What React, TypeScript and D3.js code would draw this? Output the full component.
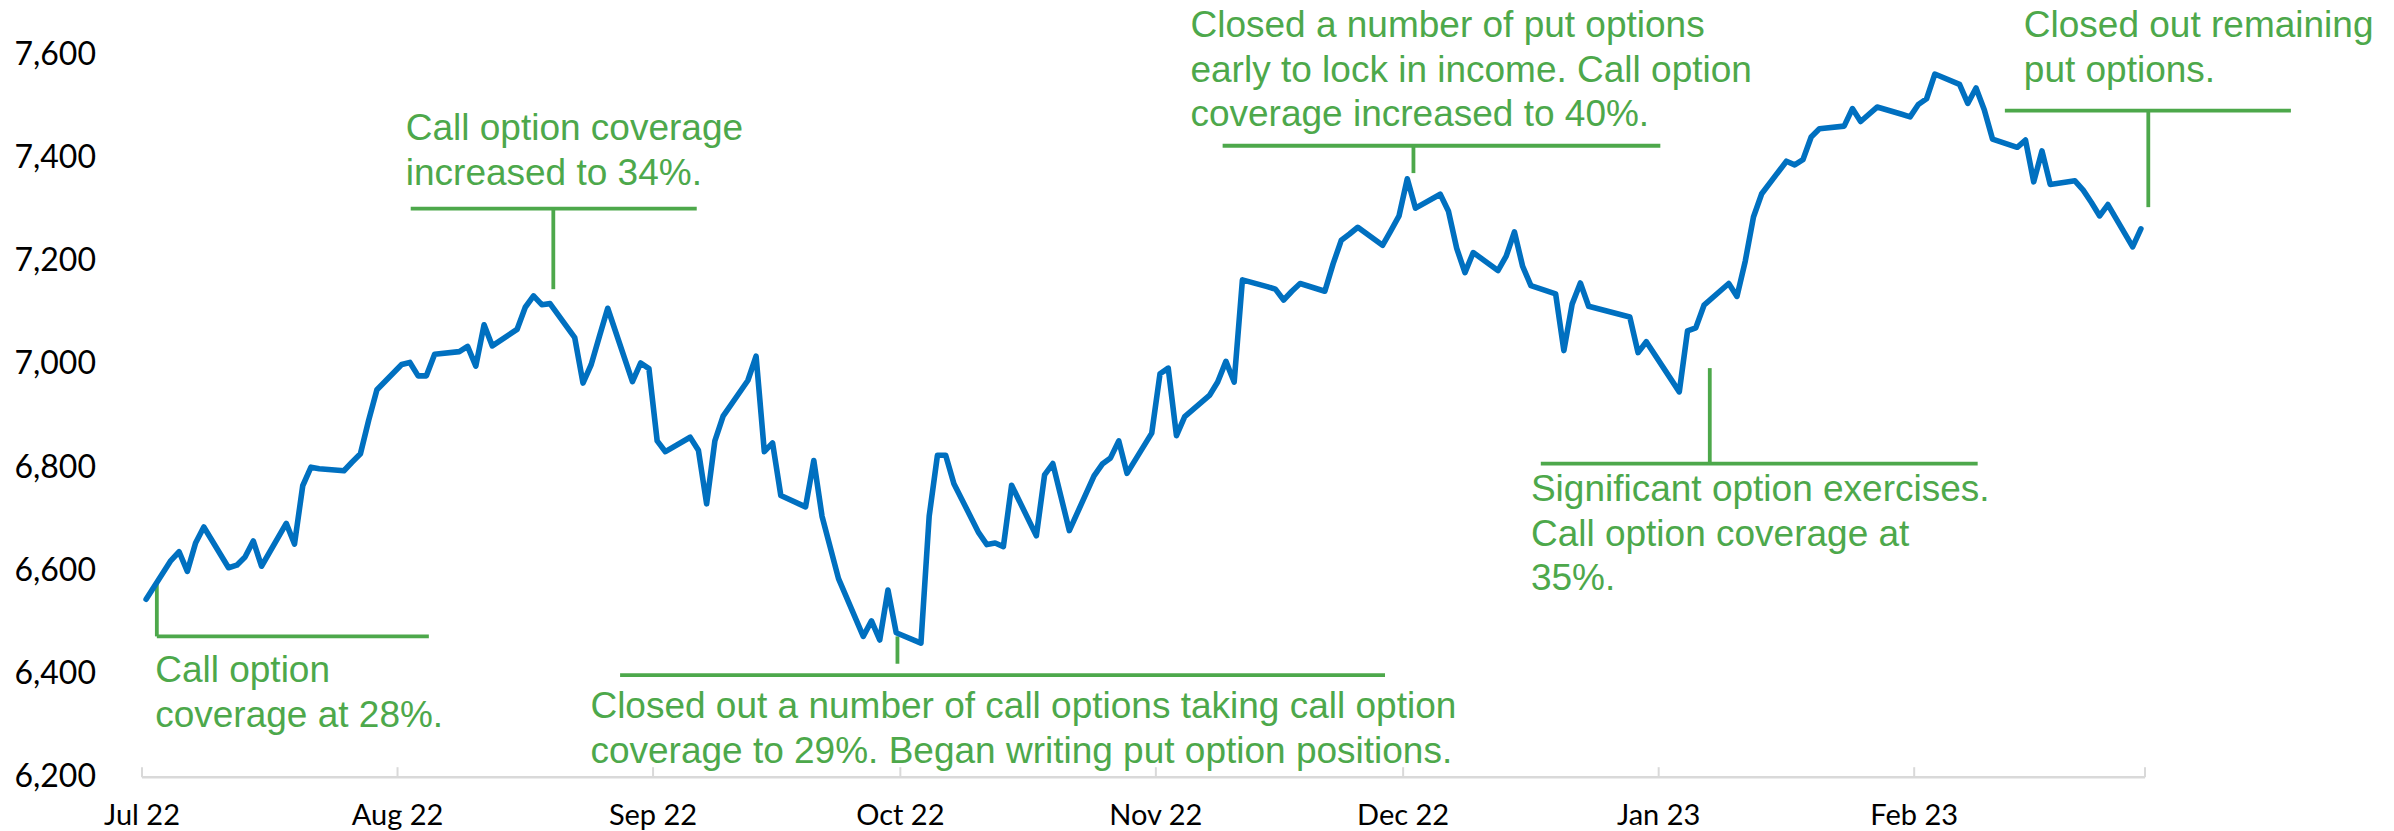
import React from "react";
import * as d3 from "d3";

// ---- data (ASX 200 style index level, daily closes) ----
const dates: string[] = [
  "2022-07-01","2022-07-04","2022-07-05","2022-07-06","2022-07-07","2022-07-08",
  "2022-07-11","2022-07-12","2022-07-13","2022-07-14","2022-07-15",
  "2022-07-18","2022-07-19","2022-07-20","2022-07-21","2022-07-22",
  "2022-07-25","2022-07-26","2022-07-27","2022-07-28","2022-07-29",
  "2022-08-01","2022-08-02","2022-08-03","2022-08-04","2022-08-05",
  "2022-08-08","2022-08-09","2022-08-10","2022-08-11","2022-08-12",
  "2022-08-15","2022-08-16","2022-08-17","2022-08-18","2022-08-19",
  "2022-08-22","2022-08-23","2022-08-24","2022-08-25","2022-08-26",
  "2022-08-29","2022-08-30","2022-08-31","2022-09-01","2022-09-02",
  "2022-09-05","2022-09-06","2022-09-07","2022-09-08","2022-09-09",
  "2022-09-12","2022-09-13","2022-09-14","2022-09-15","2022-09-16",
  "2022-09-19","2022-09-20","2022-09-21","2022-09-23",
  "2022-09-26","2022-09-27","2022-09-28","2022-09-29","2022-09-30",
  "2022-10-03","2022-10-04","2022-10-05","2022-10-06","2022-10-07",
  "2022-10-10","2022-10-11","2022-10-12","2022-10-13","2022-10-14",
  "2022-10-17","2022-10-18","2022-10-19","2022-10-20","2022-10-21",
  "2022-10-24","2022-10-25","2022-10-26","2022-10-27","2022-10-28",
  "2022-10-31","2022-11-01","2022-11-02","2022-11-03","2022-11-04",
  "2022-11-07","2022-11-08","2022-11-09","2022-11-10","2022-11-11",
  "2022-11-14","2022-11-15","2022-11-16","2022-11-17","2022-11-18",
  "2022-11-21","2022-11-22","2022-11-23","2022-11-24","2022-11-25",
  "2022-11-28","2022-11-29","2022-11-30","2022-12-01","2022-12-02",
  "2022-12-05","2022-12-06","2022-12-07","2022-12-08","2022-12-09",
  "2022-12-12","2022-12-13","2022-12-14","2022-12-15","2022-12-16",
  "2022-12-19","2022-12-20","2022-12-21","2022-12-22","2022-12-23",
  "2022-12-28","2022-12-29","2022-12-30",
  "2023-01-03","2023-01-04","2023-01-05","2023-01-06",
  "2023-01-09","2023-01-10","2023-01-11","2023-01-12","2023-01-13",
  "2023-01-16","2023-01-17","2023-01-18","2023-01-19","2023-01-20",
  "2023-01-23","2023-01-24","2023-01-25","2023-01-27",
  "2023-01-30","2023-01-31","2023-02-01","2023-02-02","2023-02-03",
  "2023-02-06","2023-02-07","2023-02-08","2023-02-09","2023-02-10",
  "2023-02-13","2023-02-14","2023-02-15","2023-02-16","2023-02-17",
  "2023-02-20","2023-02-21","2023-02-22","2023-02-23","2023-02-24",
  "2023-02-27","2023-02-28",
];

const values: number[] = [
  6542, 6617, 6634, 6596, 6651, 6682,
  6603, 6608, 6624, 6655, 6606,
  6689, 6649, 6762, 6798, 6795,
  6791, 6808, 6824, 6889, 6948,
  6997, 7001, 6975, 6975, 7017,
  7022, 7032, 6994, 7074, 7033,
  7065, 7108, 7130, 7113, 7115,
  7049, 6961, 6997, 7052, 7106,
  6964, 7000, 6989, 6849, 6828,
  6856, 6831, 6727, 6849, 6897,
  6966, 7013, 6828, 6845, 6743,
  6721, 6811, 6703, 6582,
  6470, 6500, 6463, 6560, 6477,
  6457, 6703, 6821, 6821, 6766,
  6671, 6648, 6651, 6644, 6763,
  6665, 6783, 6805, 6740, 6675,
  6781, 6804, 6816, 6849, 6786,
  6864, 6979, 6990, 6859, 6896,
  6937, 6963, 7003, 6963, 7161,
  7148, 7143, 7122, 7139, 7154,
  7139, 7192, 7238, 7250, 7263,
  7228, 7256, 7285, 7357, 7300,
  7327, 7294, 7222, 7175, 7214,
  7179, 7207, 7254, 7187, 7150,
  7134, 7024, 7114, 7155, 7110,
  7089, 7020, 7041,
  6944, 7062, 7068, 7112,
  7154, 7129, 7197, 7283, 7328,
  7391, 7384, 7394, 7438, 7454,
  7459, 7493, 7468, 7496,
  7482, 7477, 7501, 7512, 7560,
  7540, 7503, 7533, 7491, 7434,
  7418, 7432, 7351, 7411, 7346,
  7353, 7335, 7311, 7285, 7307,
  7225, 7260,
];

const yTicks: number[] = [6200, 6400, 6600, 6800, 7000, 7200, 7400, 7600];
const monthTicks: string[] = [
  "2022-07-01","2022-08-01","2022-09-01","2022-10-01","2022-11-01",
  "2022-12-01","2023-01-01","2023-02-01","2023-03-01",
];
const monthLabels: string[] = ["Jul 22","Aug 22","Sep 22","Oct 22","Nov 22","Dec 22","Jan 23","Feb 23"];

// annotation texts
const annTexts: string[][] = [
  ["Call option coverage", "increased to 34%."],
  ["Call option", "coverage at 28%."],
  ["Closed out a number of call options taking call option", "coverage to 29%. Began writing put option positions."],
  ["Closed a number of put options", "early to lock in income. Call option", "coverage increased to 40%."],
  ["Closed out remaining", "put options."],
  ["Significant option exercises.", "Call option coverage at", "35%."],
];
// anchors in data space: days from 1 Jul 2022, index level
const annTextAnchor: [number, number][] = [
  [32.0, 7432], [1.6, 6382], [54.4, 6312], [127.2, 7632], [228.3, 7632], [168.5, 6733],
];
// bracket segments: [day1, value1, day2, value2]
const annSegments: [number, number, number, number][][] = [
  [[32.6, 7299, 67.3, 7299], [49.9, 7299, 49.9, 7143]],
  [[1.8, 6572, 1.8, 6470], [1.8, 6470, 34.8, 6470]],
  [[91.65, 6470, 91.65, 6417], [58.0, 6395, 150.8, 6395]],
  [[131.1, 7421, 184.2, 7421], [154.25, 7421, 154.25, 7368]],
  [[226.0, 7489, 260.7, 7489], [243.4, 7489, 243.4, 7302]],
  [[169.7, 6805, 222.7, 6805], [190.2, 6805, 190.2, 6990]],
];

const W = 2394;
const H = 831;
const GREEN = "#4DA84B";
const BLUE = "#0070C0";

function parseDay(s: string, hour = 0): Date {
  const [y, m, d] = s.split("-").map(Number);
  return new Date(y, m - 1, d, hour);
}

export default function App() {
  const start = parseDay("2022-07-01");
  const end = parseDay("2023-03-01");
  const x = d3.scaleTime().domain([start, end]).range([142, 2145]);
  const y = d3.scaleLinear().domain([6200, 7600]).range([775.7, 53.4]);
  const dayX = (d: number) => x(new Date(start.getTime() + d * 86400000));

  const pts = dates.map((s, i) => ({ t: parseDay(s, 12), v: values[i] }));
  const line = d3
    .line<{ t: Date; v: number }>()
    .x((p) => x(p.t))
    .y((p) => y(p.v));

  const axisY = y(6200) + 1.5;
  const fmt = d3.format(",");

  return (
    <svg
      width={W}
      height={H}
      style={{ position: "absolute", left: 0, top: 0, background: "#fff" }}
    >
      {/* y tick labels */}
      {yTicks.map((t) => (
        <text
          key={t}
          x={96}
          y={y(t)}
          dy="0.36em"
          textAnchor="end"
          fontFamily="Lato, 'Open Sans', sans-serif"
          fontSize={32}
          fill="#000"
        >
          {fmt(t)}
        </text>
      ))}

      {/* x axis */}
      <line x1={x(start)} x2={x(end)} y1={axisY} y2={axisY} stroke="#d9d9d9" strokeWidth={2.5} />
      {monthTicks.map((m) => (
        <line
          key={m}
          x1={x(parseDay(m))}
          x2={x(parseDay(m))}
          y1={axisY}
          y2={axisY - 10}
          stroke="#d9d9d9"
          strokeWidth={2}
        />
      ))}
      {monthLabels.map((lab, i) => (
        <text
          key={lab}
          x={x(parseDay(monthTicks[i]))}
          y={825}
          textAnchor="middle"
          fontFamily="Lato, 'Open Sans', sans-serif"
          fontSize={29}
          fill="#000"
        >
          {lab}
        </text>
      ))}

      {/* annotation brackets */}
      {annSegments.map((segs, i) =>
        segs.map((s, j) => (
          <line
            key={`${i}-${j}`}
            x1={dayX(s[0])}
            y1={y(s[1])}
            x2={dayX(s[2])}
            y2={y(s[3])}
            stroke={GREEN}
            strokeWidth={3.8}
          />
        ))
      )}

      {/* data line */}
      <path
        d={line(pts) || ""}
        fill="none"
        stroke={BLUE}
        strokeWidth={5.6}
        strokeLinejoin="round"
        strokeLinecap="round"
      />

      {/* annotation texts */}
      {annTexts.map((lines, i) => (
        <text
          key={i}
          x={dayX(annTextAnchor[i][0])}
          y={y(annTextAnchor[i][1])}
          fontFamily="'Liberation Sans', Arial, sans-serif"
          fontSize={37}
          fill={GREEN}
        >
          {lines.map((l, k) => (
            <tspan key={k} x={dayX(annTextAnchor[i][0])} dy={k === 0 ? 0 : 44.8}>
              {l}
            </tspan>
          ))}
        </text>
      ))}
    </svg>
  );
}
